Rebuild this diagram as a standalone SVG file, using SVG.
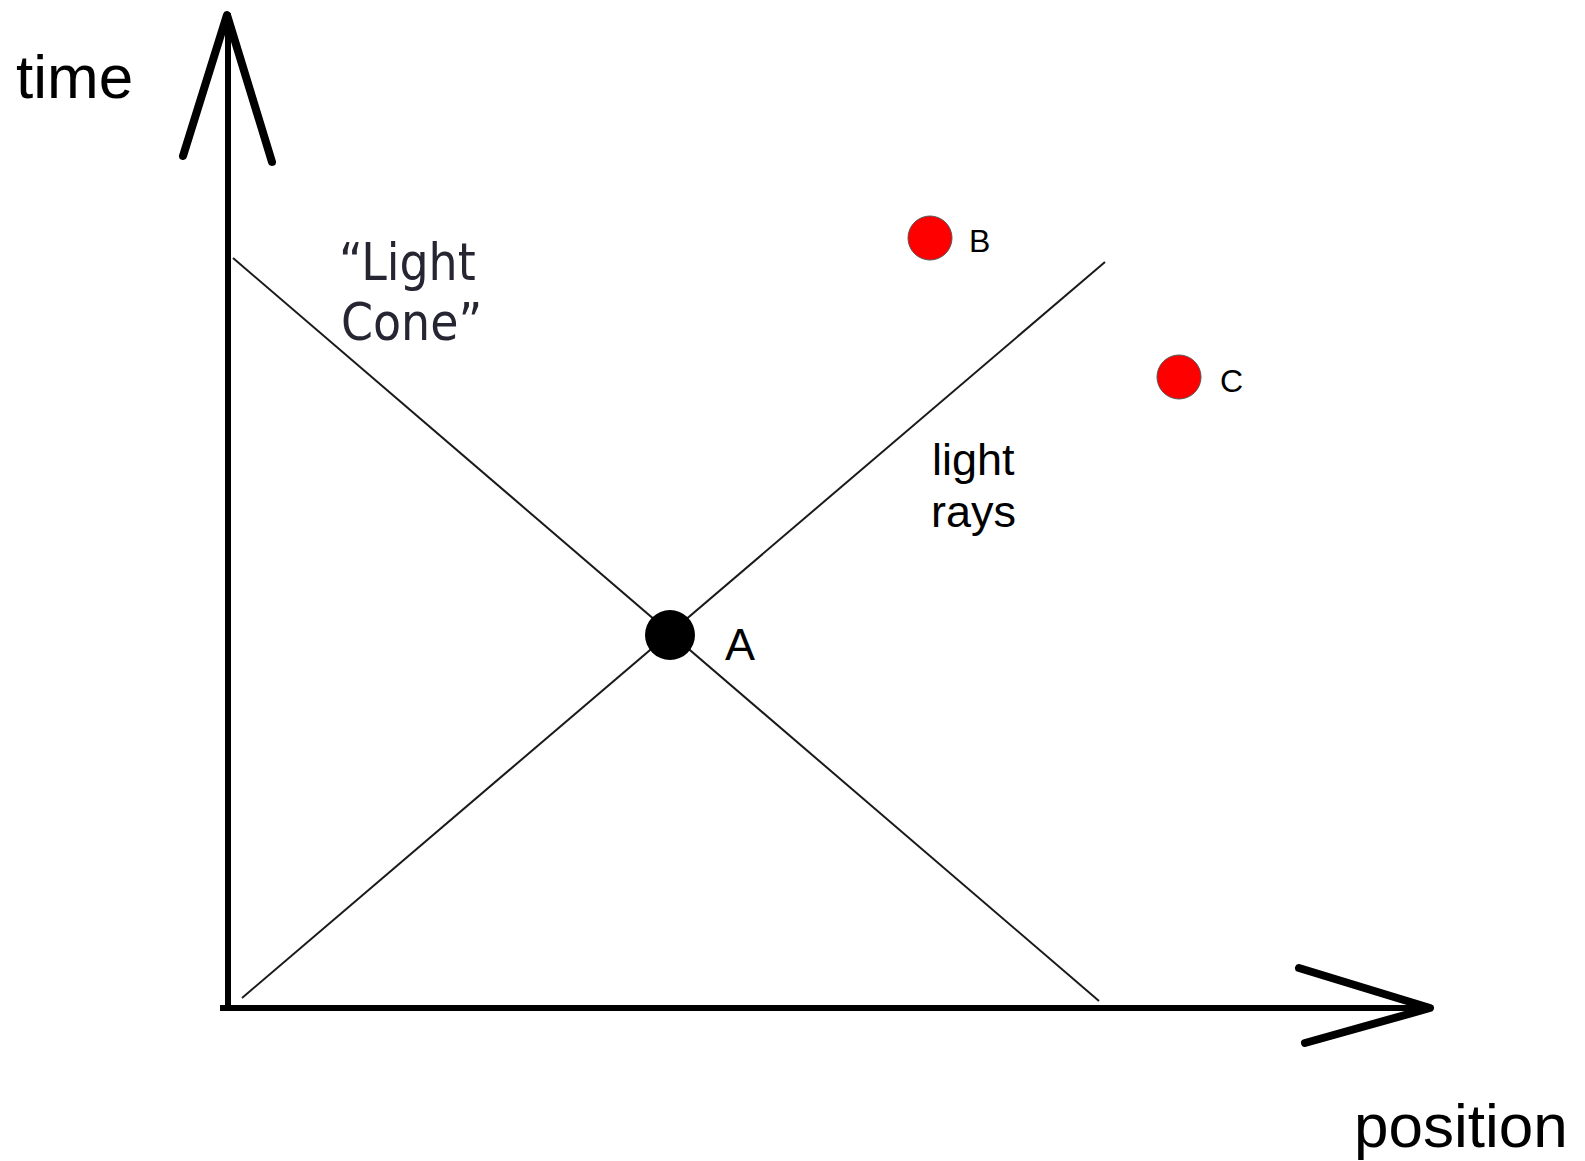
<svg xmlns="http://www.w3.org/2000/svg" width="1585" height="1161" viewBox="0 0 1585 1161">
<style>
.axis{stroke:#000;stroke-width:6;fill:none;stroke-linecap:square}
.head{stroke:#000;stroke-width:8;fill:none;stroke-linecap:round;stroke-linejoin:round}
.ray{stroke:#1a1a1a;stroke-width:2;fill:none}
.lbl{font-family:"Liberation Sans",Arial,sans-serif;fill:#000}
.cone{font-family:"DejaVu Sans Condensed","DejaVu Sans",sans-serif;font-size:51px;fill:#262633}
.evt{fill:#f00;stroke:#555;stroke-width:1}
</style>
<rect width="1585" height="1161" fill="#fff"/>
<g id="connectors">
<line class="axis" x1="228" y1="16" x2="228" y2="1008"/>
<line class="axis" x1="223" y1="1008" x2="1428" y2="1008"/>
<polyline class="head" points="183,156 227,15 272,162"/>
<polyline class="head" points="1299,968 1430,1008 1305,1043"/>
<line class="ray" x1="233" y1="258" x2="1099" y2="1001"/>
<line class="ray" x1="242" y1="998" x2="1105" y2="262"/>
</g>
<g id="time-label"><text class="lbl" x="16" y="98" font-size="62">time</text></g>
<g id="position-label"><text class="lbl" x="1354" y="1147" font-size="62">position</text></g>
<g id="light-cone-label">
<text class="cone" x="339" y="280">“Light</text>
<text class="cone" x="341" y="340">Cone”</text>
</g>
<g id="light-rays-label">
<text class="lbl" x="932" y="475" font-size="45">light</text>
<text class="lbl" x="931" y="527" font-size="45">rays</text>
</g>
<g id="node-A">
<circle cx="670" cy="635" r="25" fill="#000"/>
<text class="lbl" x="725" y="660" font-size="45">A</text>
</g>
<g id="node-B">
<circle class="evt" cx="930" cy="238" r="22"/>
<text class="lbl" x="969" y="252" font-size="32">B</text>
</g>
<g id="node-C">
<circle class="evt" cx="1179" cy="377" r="22"/>
<text class="lbl" x="1220" y="392" font-size="32">C</text>
</g>
</svg>
